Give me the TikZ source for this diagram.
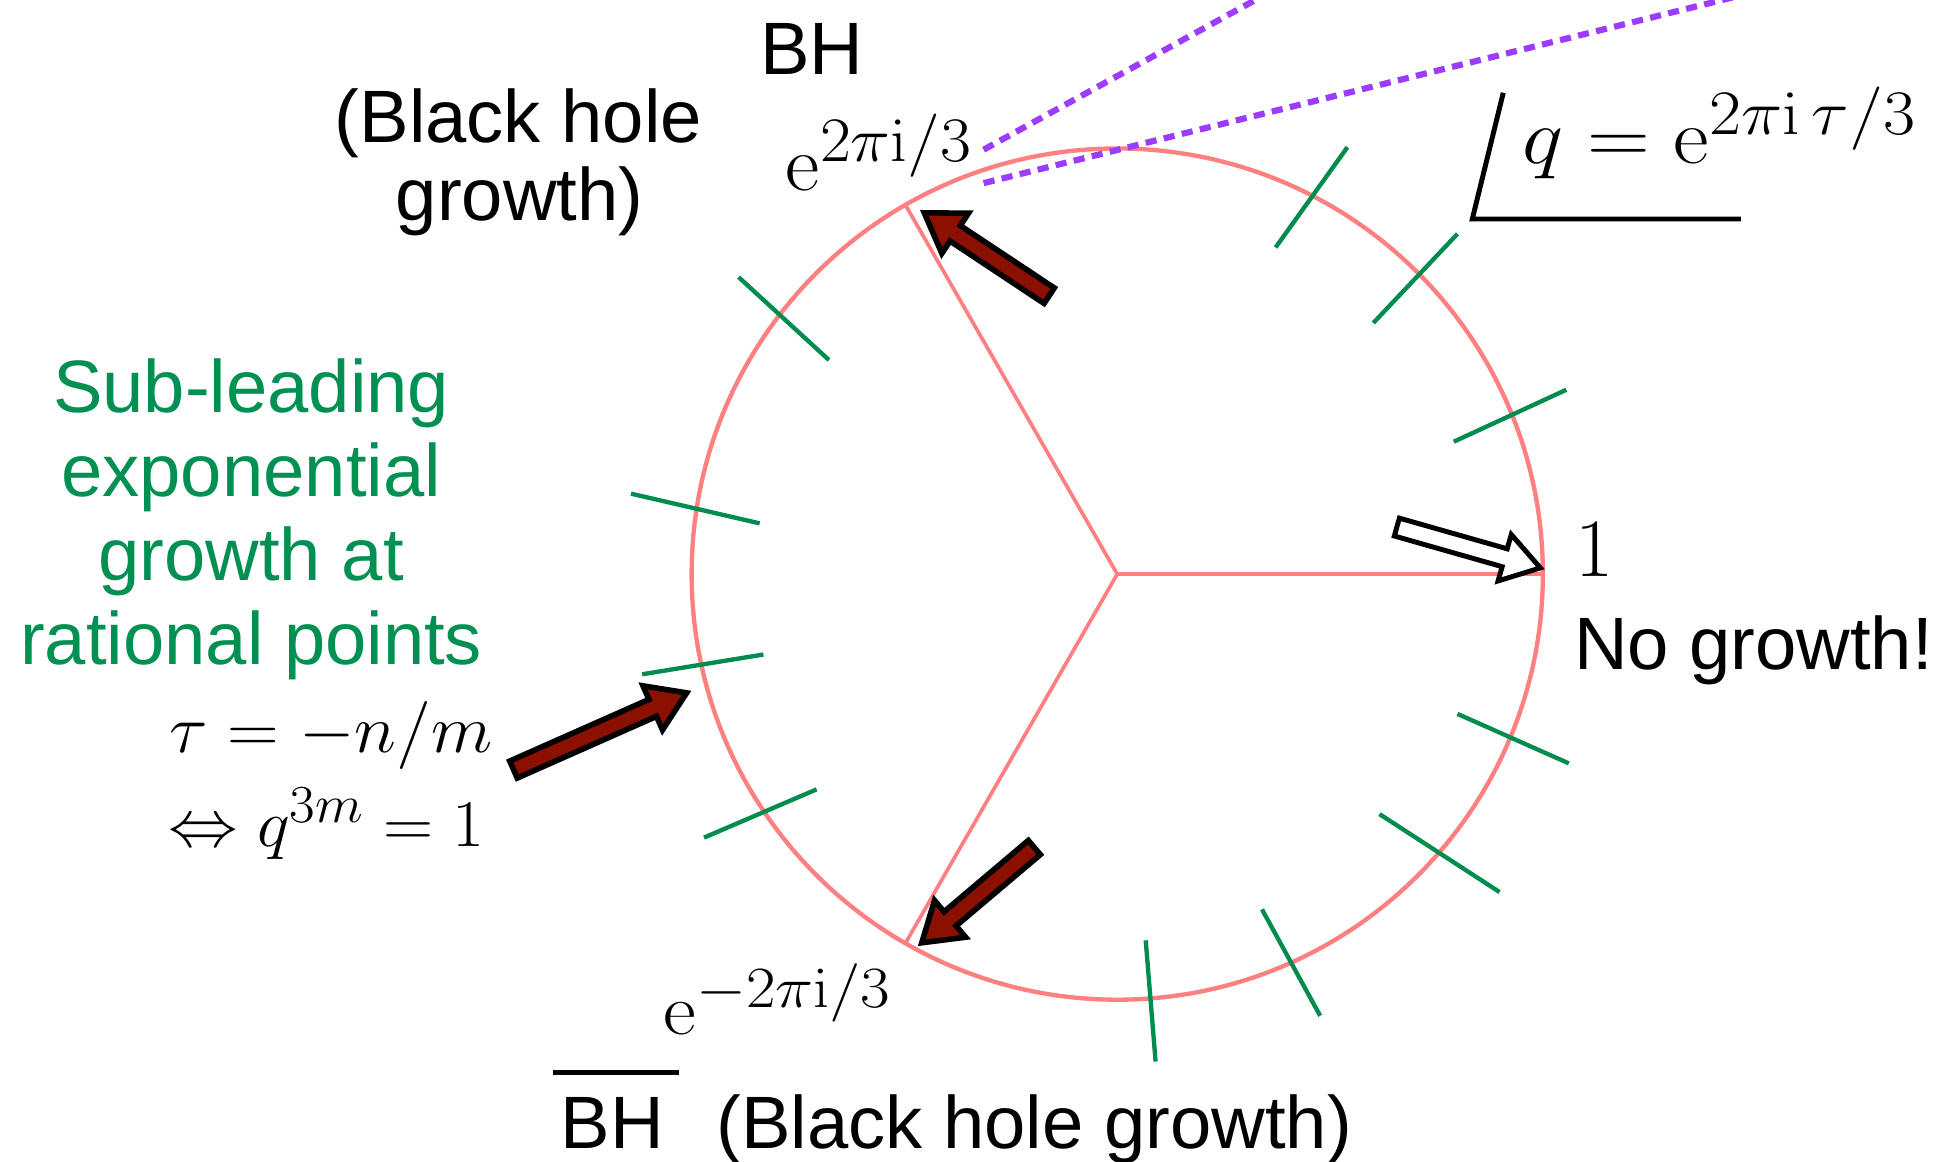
\RequirePackage{fix-cm}
\documentclass[tikz,border=0pt]{standalone}
\usepackage[no-math]{fontspec}
\usepackage{graphicx}
\usetikzlibrary{calc}
\newfontfamily\arialf{Liberation Sans}
\DeclareMathSizes{64}{64}{51.2}{38.4}
\DeclareMathSizes{59}{59}{47.2}{35.4}
\DeclareMathSizes{55}{55}{44}{33}
\DeclareMathSizes{54}{54}{43.2}{32.4}
\DeclareMathSizes{67}{67}{53.6}{40.2}
\definecolor{salmon}{RGB}{255,128,128}
\definecolor{tickgreen}{RGB}{0,140,78}
\definecolor{txtgreen}{RGB}{0,145,82}
\definecolor{dashpurple}{RGB}{155,60,255}
\definecolor{darkred}{RGB}{140,16,0}
\newcommand\mlbl[3]{\fontsize{#1}{#1}\selectfont\scalebox{#2}[1]{$#3$}}
\newcommand\blockarrow[3]{%
  \coordinate (ba-n) at ($(#3)!30pt!(#2)$);
  \draw[#1] ($(#2)!7.5pt!90:(#3)$) -- ($(ba-n)!7.5pt!-90:(#2)$) -- ($(ba-n)!19.5pt!-90:(#2)$)
    -- (#3) -- ($(ba-n)!19.5pt!90:(#2)$) -- ($(ba-n)!7.5pt!90:(#2)$) -- ($(#2)!7.5pt!-90:(#3)$) -- cycle;}
\tikzset{
  sans/.style={font=\arialf\fontsize{60}{68}\selectfont, inner sep=0pt, anchor=base},
  mathlbl/.style={inner sep=0pt, anchor=base west},
  ring/.style={draw=salmon, line width=3.5pt},
  spoke/.style={draw=salmon, line width=3pt},
  tickmark/.style={draw=tickgreen, line width=3.5pt},
  zoomline/.style={draw=dashpurple, line width=5pt, dash pattern=on 9pt off 6pt},
  redarrow/.style={fill=darkred, draw=black, line width=4.5pt, line join=miter},
  whitearrow/.style={fill=white, draw=black, line width=4pt, line join=miter},
  anglemark/.style={draw=black, line width=4pt},
}
\begin{document}
\begin{tikzpicture}[x=1pt, y=-1pt]
  \fill[white] (0,0) rectangle (1568,939);
  \clip (0,0) rectangle (1568,939);
  % circle and spokes
  \coordinate (O) at (903,464);
  \coordinate (P0) at (1247,464);
  \coordinate (P1) at (732,166);
  \coordinate (P2) at (732,762);
  \draw[ring] (O) circle (344);
  \draw[spoke] (O) -- (P0);
  \draw[spoke] (O) -- (P1);
  \draw[spoke] (O) -- (P2);
  % green ticks
  \foreach \ax/\ay/\bx/\by [count=\k] in {1031/200/1089/119, 1110/261/1178/189, 1175/357/1266/315,
      1178/577/1268/617, 1115/658/1212/721, 1020/735/1067/821, 926/760/934/858,
      569/677/660/638, 519/545/617/529, 510/399/614/423, 597/224/670/291}{
    \coordinate (t\k a) at (\ax,\ay);
    \coordinate (t\k b) at (\bx,\by);
    \draw[tickmark] (t\k a) -- (t\k b);
  }
  % dashed zoom lines
  \coordinate (z1s) at (795,121);
  \coordinate (z1e) at (1020,-3);
  \coordinate (z2s) at (795,148);
  \coordinate (z2e) at (1404,-3);
  \draw[zoomline] (z1s) -- (z1e);
  \draw[zoomline] (z2s) -- (z2e);
  % angle mark
  \coordinate (am1) at (1215,75);
  \coordinate (am2) at (1190,177);
  \coordinate (am3) at (1407,177);
  \draw[anglemark] (am1) -- (am2) -- (am3);
  % arrows
  \coordinate (aAt) at (848,239); \coordinate (aAp) at (747,172);
  \coordinate (aBt) at (415,622); \coordinate (aBp) at (555,560);
  \coordinate (aCt) at (836,685); \coordinate (aCp) at (745,762);
  \coordinate (aDt) at (1129,426); \coordinate (aDp) at (1245,459);
  \blockarrow{redarrow}{aAt}{aAp}
  \blockarrow{redarrow}{aBt}{aBp}
  \blockarrow{redarrow}{aCt}{aCp}
  \blockarrow{whitearrow}{aDt}{aDp}
  % sans texts
  \node[sans] (bh) at (656,60) {BH};
  \node[sans] (bhg1) at (419,115) {(Black hole};
  \node[sans] (bhg2) at (420,178) {growth)};
  \node[sans, text=txtgreen] (g1) at (203,333) {Sub-leading};
  \node[sans, text=txtgreen] (g2) at (203,401) {exponential};
  \node[sans, text=txtgreen] (g3) at (203,469) {growth at};
  \node[sans, text=txtgreen] (g4) at (203,537) {rational points};
  \node[sans, anchor=base west] (nog) at (1272,541) {No growth!};
  \node[sans, anchor=base west] (bhb) at (453,928) {BH};
  \draw[anglemark, line width=4.5pt] ([xshift=-6pt, yshift=61pt]bhb.base west) -- ([xshift=12pt, yshift=61pt]bhb.base east);
  \node[sans, anchor=base west] (bhbg) at (579,928) {(Black hole growth)};
  % math labels
  \node[mathlbl] (one) at (1273,466) {\mlbl{67}{1}{1}};
  \node[mathlbl] (ep) at (635,154) {\mlbl{64}{1.06}{\mathrm{e}^{2\pi\mathrm{i}/3}}};
  \node[mathlbl] (em) at (536,836) {\mlbl{59}{1.10}{\mathrm{e}^{-2\pi\mathrm{i}/3}}};
  \node[mathlbl] (qdef) at (1230,132) {\mlbl{64}{1.10}{q=\mathrm{e}^{2\pi\mathrm{i}\,\tau/3}}};
  \node[mathlbl] (tau) at (137,608) {\mlbl{55}{1.05}{\tau=-n/m}};
  \node[mathlbl] (iff) at (136,684) {\mlbl{54}{1.04}{\Leftrightarrow q^{3m}=1}};
\end{tikzpicture}
\end{document}
